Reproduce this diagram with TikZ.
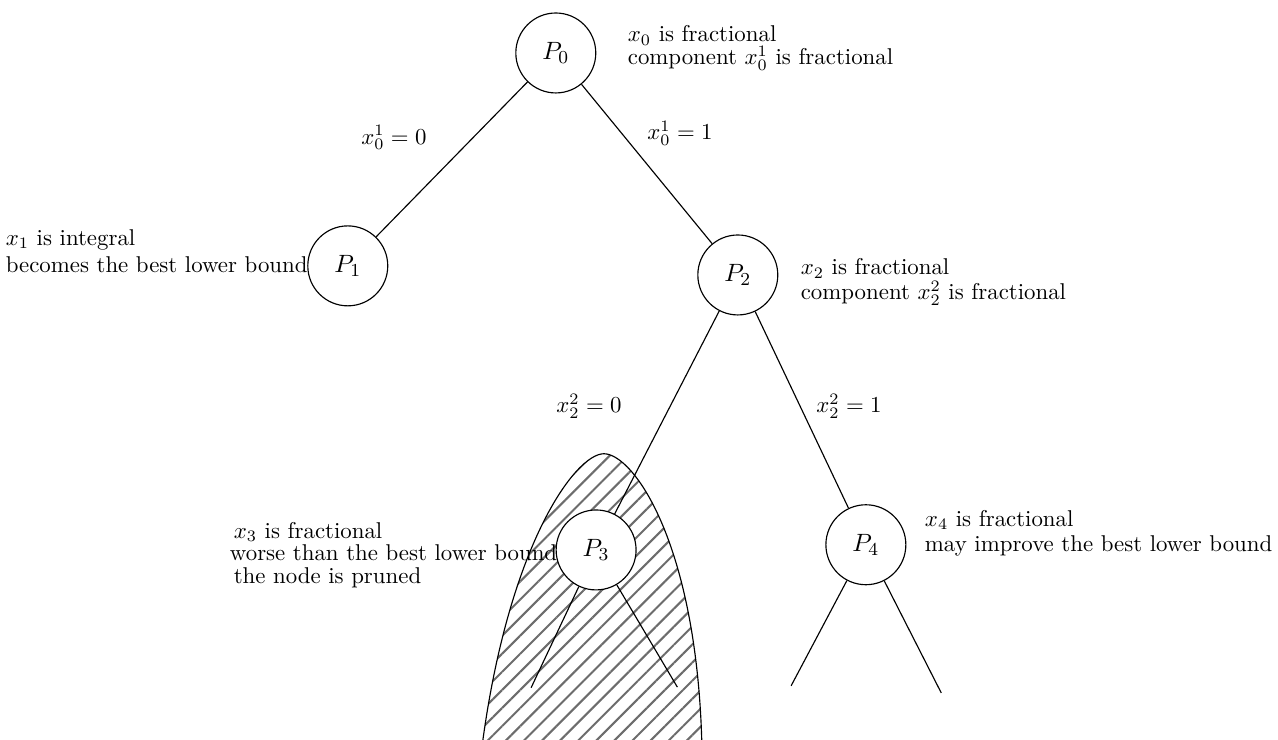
\documentclass[tikz,border=0pt]{standalone}
\usetikzlibrary{patterns.meta}
\begin{document}
\begin{tikzpicture}[line width=0.5pt]
    \tikzstyle{prob}=[circle,draw,fill=white,minimum size=1.23cm,inner sep=0pt,font=\fontsize{11}{13}\selectfont]
    \tikzstyle{note}=[align=left,inner sep=0pt]
    \tikzstyle{branch}=[inner sep=1pt]

    \useasboundingbox (0,0) rectangle (19.66,-11.38);

    % pruned region
    \begin{scope}
        \clip (0,0) rectangle (19.66,-11.38);
        \draw[pattern={Lines[angle=45,distance=5.6pt,line width=0.9pt]},pattern color=gray!85!black]
            (7.40,-11.60) .. controls (7.80,-8.40) and (8.85,-6.98) .. (9.29,-6.98)
            .. controls (9.75,-6.98) and (10.75,-8.40) .. (10.80,-11.60);
    \end{scope}

    \node[prob] (P0) at (8.55,-0.815) {$P_0$};
    \node[prob] (P1) at (5.35,-4.09) {$P_1$};
    \node[prob] (P2) at (11.35,-4.23) {$P_2$};
    \node[prob] (P3) at (9.17,-8.46) {$P_3$};
    \node[prob] (P4) at (13.32,-8.38) {$P_4$};

    \coordinate (P3a) at (8.17,-10.58);
    \coordinate (P3b) at (10.42,-10.57);
    \coordinate (P4a) at (12.17,-10.55);
    \coordinate (P4b) at (14.48,-10.66);

    \draw (P0) -- (P1);
    \draw (P0) -- (P2);
    \draw (P2) -- (P3);
    \draw (P2) -- (P4);
    \draw (P3) -- (P3a);
    \draw (P3) -- (P3b);
    \draw (P4) -- (P4a);
    \draw (P4) -- (P4b);

    \node[branch] (b01) at (6.06,-2.12) {$x_0^1=0$};
    \node[branch] (b02) at (10.46,-2.05) {$x_0^1=1$};
    \node[branch] (b21) at (9.06,-6.25) {$x_2^2=0$};
    \node[branch] (b22) at (13.06,-6.25) {$x_2^2=1$};

    \node[note,anchor=west] (n0) at (9.65,-0.74) {$x_0$ is fractional\\[-2pt]component $x_0^1$ is fractional};
    \node[note,anchor=east] (n1) at (4.74,-3.86) {$x_1$ is integral\\becomes the best lower bound};
    \node[note,anchor=west] (n2) at (12.31,-4.34) {$x_2$ is fractional\\[-1pt]component $x_2^2$ is fractional};
    \node[note,anchor=east] (n3) at (8.58,-8.54) {\,$x_3$ is fractional\\[-2pt]worse than the best lower bound\\[-2pt]\,the node is pruned};
    \node[note,anchor=west] (n4) at (14.22,-8.20) {$x_4$ is fractional\\[-1pt]may improve the best lower bound};
\end{tikzpicture}
\end{document}
